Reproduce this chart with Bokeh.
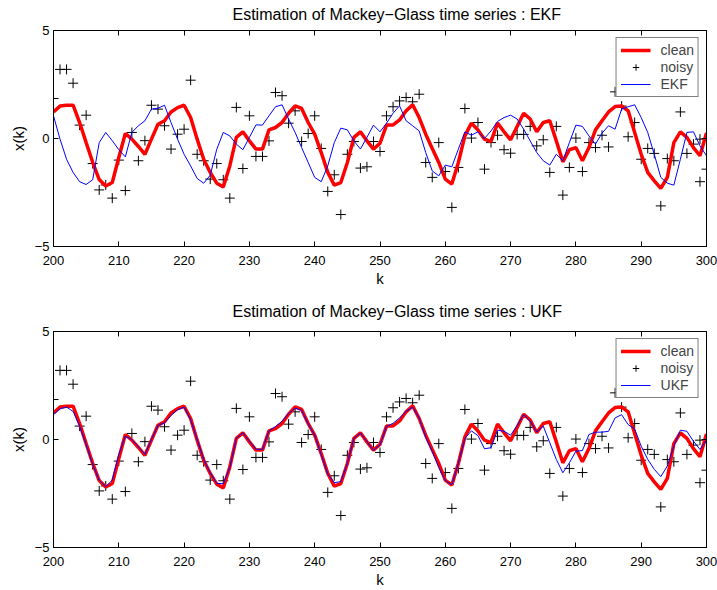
from bokeh.plotting import figure
from bokeh.models import LinearAxis, FixedTicker, Legend, LegendItem, Range1d
from bokeh.layouts import column
from bokeh.embed import file_html
from bokeh.resources import INLINE

k = list(range(200, 301))

clean = [1.23, 1.5, 1.54, 1.54, 0.74, -0.19, -1.1, -1.9, -2.2, -2.04,
         -0.88, 0.23, -0.03, -0.37, -0.73, -0.03, 0.66, 0.82, 1.23, 1.43,
         1.54, 0.97, -0.03, -0.96, -1.57, -2.07, -2.24, -1.27, 0.05, 0.31,
         -0.11, -0.49, -0.49, 0.4, 0.51, 0.74, 1.17, 1.51, 1.39, 0.74,
         0.2, -0.65, -1.57, -2.16, -2.04, -1.11, 0.05, 0.31, -0.11, -0.49,
         -0.22, 0.62, 0.63, 0.86, 1.28, 1.56, 0.97, 0.2, -0.46, -1.11,
         -1.88, -2.11, -1.11, 0.12, 0.71, 0.39, -0.03, -0.14, 0.71, 0.31,
         -0.06, 0.56, 1.17, 0.9, 0.31, 0.74, 0.82, -0.11, -1.08, -0.52,
         -0.42, -1.03, -0.42, 0.4, 0.82, 1.23, 1.48, 1.51, 1.28, 0.28,
         -0.73, -1.57, -1.96, -2.31, -1.8, -0.19, 0.31, 0.05, -0.42, -0.8,
         0.25]

noisy_k = list(range(200, 301)) + [299]
noisy = [1.85, 3.2, 3.2, 2.56, 0.62, 1.08, -1.16, -2.38, -2.15, -2.76,
         -1.0, -2.41, 0.28, -1.03, -0.1, 1.54, 1.36, 0.59, -0.49, 0.2,
         0.43, 2.7, -0.73, -1.03, -1.88, -1.16, -1.91, -2.76, 1.44, -1.39,
         1.05, -0.83, -0.83, -0.11, 2.13, 1.98, 0.71, 1.28, -0.14, 0.23,
         1.05, -0.46, -2.45, -1.68, -3.52, -0.73, -0.14, -1.37, -1.31, -0.14,
         -0.6, 1.05, 1.47, 1.74, 1.9, 1.7, 2.05, -1.11, -1.8, -0.19,
         -1.53, -3.19, -1.34, 1.39, 0.02, 0.74, -1.42, -0.19, 0.15, -0.52,
         -0.68, 0.19, 0.19, 0.56, -0.34, -0.06, -1.57, 0.56, -2.62, -1.34,
         0.02, -1.53, -0.19, -0.42, 0.15, -0.39, 2.16, 1.5, 0.08, 0.74,
         -0.96, -0.46, -0.69, -3.12, -0.93, -1.03, 1.23, -0.69, -0.26, -2.0,
         -1.42, -0.03]

ekf = [1.05, -0.03, -0.96, -1.57, -2.0, -2.13, -1.91, -0.19, 0.28, -0.1,
       -0.52, -0.85, 0.28, 0.59, 0.82, 1.36, 1.4, 1.54, 0.74, -0.03,
       -0.73, -1.27, -1.85, -2.07, -1.7, -0.5, 0.28, 0.12, -0.26, -0.52,
       0.05, 0.63, 0.62, 1.05, 1.47, 1.56, 0.9, 0.28, -0.42, -1.11,
       -1.8, -2.0, -1.27, -0.19, 0.48, 0.4, -0.11, -0.49, 0.05, 0.62,
       0.31, 0.71, 1.17, 1.51, 0.82, 0.59, 0.35, -0.65, -1.5, -1.73,
       -1.23, -1.31, -0.49, 0.31, 0.15, 0.31, 0.0, 0.35, 0.79, 0.97,
       1.08, 0.9, 0.43, -0.11, -0.65, -1.03, -1.23, -0.73, -1.03, -0.19,
       0.62, 0.56, 0.12, -0.26, 0.25, 0.59, 0.43, 1.36, 1.47, 1.56,
       0.97, 0.28, -0.73, -1.8, -2.07, -2.16, -0.96, 0.28, 0.31, -0.34,
       -0.8]

ukf = [1.15, 1.42, 1.5, 1.3, 0.62, -0.23, -1.15, -1.88, -2.18, -1.88,
       -0.69, 0.15, 0.0, -0.34, -0.69, 0.0, 0.65, 0.77, 1.11, 1.38,
       1.5, 0.92, 0.0, -0.92, -1.54, -2.03, -2.05, -1.3, 0.05, 0.31,
       -0.08, -0.45, -0.45, 0.4, 0.6, 0.85, 1.2, 1.45, 1.35, 0.72,
       0.2, -0.7, -1.6, -2.0, -1.95, -1.1, 0.05, 0.3, -0.1, -0.5,
       -0.25, 0.6, 0.75, 1.0, 1.3, 1.5, 1.0, 0.1, -0.55, -1.3,
       -1.9, -2.1, -1.1, 0.05, 0.4, 0.18, -0.43, -0.38, 0.43, 0.38,
       0.2, 0.65, 1.15, 0.85, 0.35, 0.62, -0.15, -0.92, -1.54, -1.08,
       -0.54, -0.51, 0.23, 0.34, 0.34, 0.38, 1.0, 1.15, 0.69, 0.49,
       -0.31, -0.92, -1.38, -1.72, -1.23, -0.31, 0.43, 0.38, -0.08, -0.46,
       -0.03]

x_ticks = list(range(200, 301, 10))
y_ticks = [-5, 0, 5]

FONT = "Liberation Sans"


def style_axis(ax):
    ax.major_tick_in = 5
    ax.major_tick_out = 0
    ax.minor_tick_line_color = None
    ax.axis_line_color = "black"
    ax.major_tick_line_color = "black"
    ax.major_label_text_font = FONT
    ax.major_label_text_font_size = "13px"
    ax.major_label_text_color = "black"
    ax.axis_label_text_font = FONT
    ax.axis_label_text_font_size = "15px"
    ax.axis_label_text_font_style = "normal"
    ax.axis_label_text_color = "black"


def panel(title, est, est_label, top_border, bottom_border, title_gap):
    p = figure(frame_width=653, frame_height=216, output_backend="svg",
               toolbar_location=None, x_range=Range1d(200, 300), y_range=Range1d(-5, 5),
               min_border_left=53, min_border_right=11, min_border_top=top_border,
               min_border_bottom=bottom_border)
    p.title.text = title
    p.title.align = "left"
    p.title.offset = 179
    p.title.standoff = title_gap
    p.title.vertical_align = "top"
    p.title.text_font = FONT
    p.title.text_font_size = "16px"
    p.title.text_font_style = "normal"
    p.title.text_color = "black"
    p.grid.visible = False
    p.outline_line_color = "black"
    p.outline_line_alpha = 1
    p.background_fill_color = "white"
    p.border_fill_color = "white"

    p.xaxis.ticker = FixedTicker(ticks=x_ticks)
    p.yaxis.ticker = FixedTicker(ticks=y_ticks)
    p.xaxis.axis_label = "k"
    p.yaxis.axis_label = "x(k)"
    p.xaxis.axis_label_standoff = 2
    p.yaxis.axis_label_standoff = 5
    p.xaxis.major_label_standoff = 9
    p.yaxis.major_label_standoff = 4
    for ax in list(p.xaxis) + list(p.yaxis):
        style_axis(ax)

    top = LinearAxis(ticker=FixedTicker(ticks=x_ticks),
                     major_label_overrides={t: "" for t in x_ticks})
    right = LinearAxis(ticker=FixedTicker(ticks=y_ticks),
                       major_label_overrides={t: "" for t in y_ticks})
    style_axis(top)
    style_axis(right)
    top.major_label_standoff = 0
    right.major_label_standoff = 0
    p.add_layout(top, "above")
    p.add_layout(right, "right")

    r_noisy = p.scatter(noisy_k, noisy, marker="cross", size=10, line_color="black",
                        line_width=1)
    r_clean = p.line(k, clean, line_color="#ff0000", line_width=3.5)
    r_est = p.line(k, est, line_color="#0000ff", line_width=1)

    legend = Legend(items=[LegendItem(label="clean", renderers=[r_clean]),
                           LegendItem(label="noisy", renderers=[r_noisy]),
                           LegendItem(label=est_label, renderers=[r_est])],
                    location="top_right")
    legend.margin = 7
    legend.padding = 4
    legend.spacing = 1
    legend.glyph_width = 30
    legend.glyph_height = 16
    legend.label_height = 16
    legend.label_standoff = 10
    legend.label_text_font = FONT
    legend.label_text_font_size = "14px"
    legend.border_line_color = "black"
    legend.border_line_width = 1
    legend.background_fill_alpha = 1
    p.add_layout(legend, "center")
    return p


p1 = panel("Estimation of Mackey\u2212Glass time series : EKF", ekf, "EKF", 30, 40, 11)
p2 = panel("Estimation of Mackey\u2212Glass time series : UKF", ukf, "UKF", 42, 46, 19)

layout = column(p1, p2, spacing=0)
open("out.html", "w").write(file_html(layout, INLINE))
